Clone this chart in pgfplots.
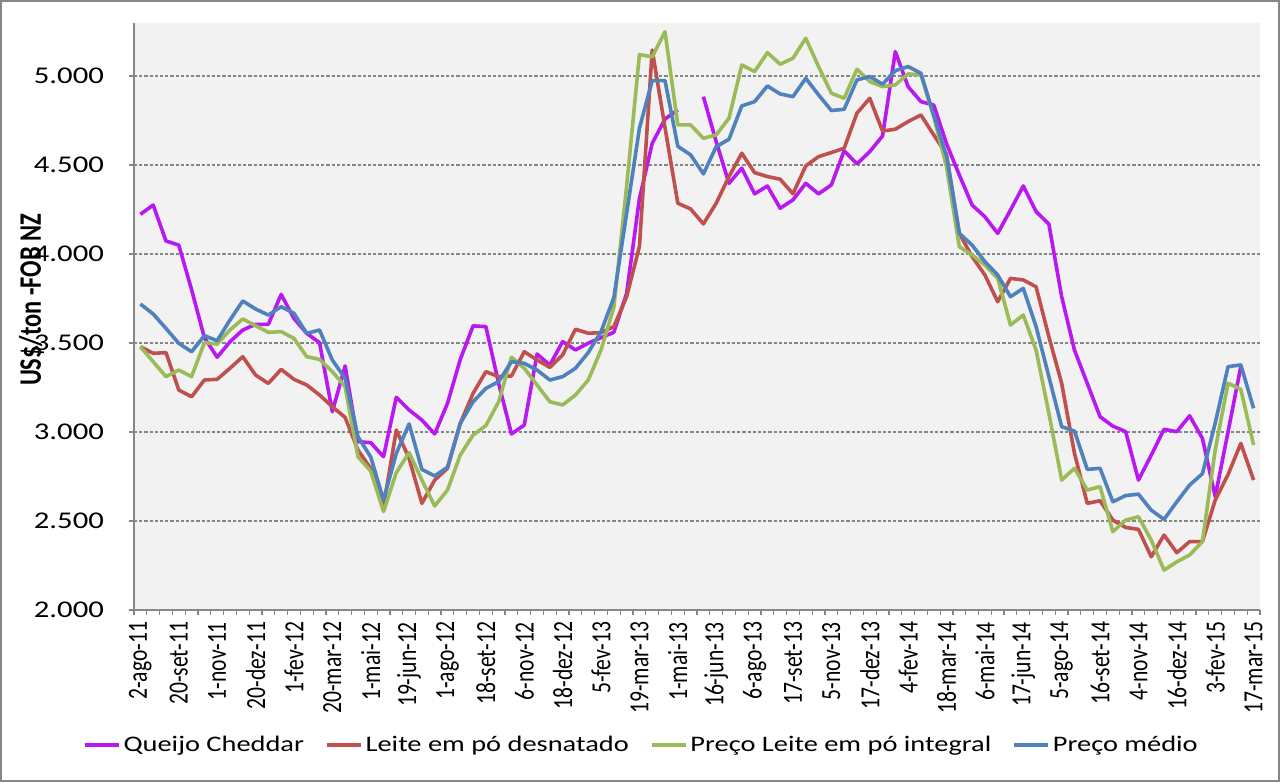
\documentclass[border=0pt]{standalone}
\usepackage{pgfplots}
\usepackage{pgfplotstable}
\usepackage{graphicx}
\pgfplotsset{compat=1.18}
\usepackage{fontspec}
\setmainfont{Carlito}

\definecolor{ched}{RGB}{185,25,240}
\definecolor{desn}{RGB}{192,80,77}
\definecolor{integ}{RGB}{155,187,89}
\definecolor{medio}{RGB}{79,129,189}
\definecolor{gridc}{RGB}{134,134,134}

% the reference is stretched sideways: widen text the same way
\newcommand{\wide}[1]{\scalebox{1.28}[1]{#1}}
\newcommand{\tall}[1]{\scalebox{1}[1.28]{#1}}

% leilões GDT, um por linha (i = posição na categoria)
\pgfplotstableread{
i ched desn integ medio
0 4223 3479 3479 3719
1 4275 3442 3395 3663
2 4073 3446 3311 3582
3 4050 3236 3348 3498
4 3800 3198 3311 3451
5 3530 3292 3502 3541
6 3420 3296 3494 3513
7 3507 3358 3573 3629
8 3573 3423 3635 3736
9 3605 3320 3597 3691
10 3605 3273 3560 3657
11 3773 3352 3564 3704
12 3638 3296 3526 3667
13 3554 3264 3423 3554
14 3502 3208 3408 3573
15 3114 3142 3339 3404
16 3371 3082 3255 3301
17 2946 2899 2861 2974
18 2940 2795 2780 2860
19 2861 2581 2553 2618
20 3195 3011 2772 2880
21 3124 2852 2884 3045
22 3067 2599 2730 2790
23 2989 2730 2584 2753
24 3161 2796 2674 2802
25 3408 3049 2871 3049
26 3596 3217 2983 3170
27 3592 3339 3036 3245
28 3273 3311 3170 3283
29 2989 3315 3420 3395
30 3039 3451 3358 3386
31 3438 3405 3264 3348
32 3376 3363 3170 3292
33 3508 3433 3152 3311
34 3461 3577 3208 3358
35 3499 3555 3292 3446
36 3530 3558 3461 3564
37 3560 3592 3700 3755
38 3779 3760 4380 4228
39 4310 4042 5120 4706
40 4622 5146 5108 4974
41 4758 4710 5249 4974
42 4809 4285 4725 4605
43 nan 4253 4725 4557
44 4884 4169 4650 4450
45 4631 4285 4669 4603
46 4397 4435 4763 4645
47 4482 4566 5062 4832
48 4338 4457 5025 4856
49 4382 4435 5131 4944
50 4257 4420 5066 4899
51 4304 4338 5100 4884
52 4397 4495 5212 4987
53 4338 4547 5053 4894
54 4388 4570 4903 4806
55 4580 4594 4875 4813
56 4506 4791 5038 4978
57 4575 4875 4969 4997
58 4663 4691 4940 4954
59 5137 4701 4950 5030
60 4940 4744 5012 5053
61 4856 4781 5006 5015
62 4837 4669 4772 4780
63 4620 4560 4491 4550
64 4444 4116 4041 4116
65 4275 3985 3994 4050
66 4209 3882 3938 3957
67 4116 3732 3863 3882
68 4247 3863 3601 3760
69 4382 3854 3657 3807
70 4238 3816 3460 3592
71 4168 3535 3105 3311
72 3760 3273 2730 3030
73 3460 2880 2796 3005
74 3273 2599 2674 2790
75 3086 2614 2693 2796
76 3033 2505 2440 2608
77 3002 2464 2505 2643
78 2730 2453 2524 2651
79 2870 2299 2393 2561
80 3015 2421 2224 2509
81 3002 2322 2271 2608
82 3091 2384 2309 2702
83 2964 2384 2384 2766
84 2637 2618 2900 3050
85 3000 2760 3274 3367
86 3367 2936 3240 3377
87 nan 2730 2927 3133
}\datatable

\begin{document}
\begin{tikzpicture}[x=1pt,y=1pt]
\path[use as bounding box] (0,0) rectangle (640,391);
\draw[gridc, line width=1pt] (0.5,0.5) rectangle (639.5,390.5);
\begin{axis}[
  at={(67pt,86pt)}, anchor=south west,
  scale only axis, width=563pt, height=293.7pt,
  xmin=-0.5, xmax=87.5,
  ymin=2000, ymax=5300,
  axis lines=left,
  axis line style={-, draw=gridc, line width=0.6pt},
  axis background/.style={fill=gray!10},
  ytick={2000,2500,3000,3500,4000,4500,5000},
  yticklabels={\wide{2.000},\wide{2.500},\wide{3.000},\wide{3.500},\wide{4.000},\wide{4.500},\wide{5.000}},
  xtick={0,3,...,87},
  xticklabels={\tall{2-ago-11},\tall{20-set-11},\tall{1-nov-11},\tall{20-dez-11},\tall{1-fev-12},\tall{20-mar-12},\tall{1-mai-12},\tall{19-jun-12},\tall{1-ago-12},\tall{18-set-12},\tall{6-nov-12},\tall{18-dez-12},\tall{5-fev-13},\tall{19-mar-13},\tall{1-mai-13},\tall{16-jun-13},\tall{6-ago-13},\tall{17-set-13},\tall{5-nov-13},\tall{17-dez-13},\tall{4-fev-14},\tall{18-mar-14},\tall{6-mai-14},\tall{17-jun-14},\tall{5-ago-14},\tall{16-set-14},\tall{4-nov-14},\tall{16-dez-14},\tall{3-fev-15},\tall{17-mar-15}},
  minor xtick={-0.5,0.5,...,87.5},
  tick align=outside,
  major tick length=2.5pt, minor tick length=2.5pt,
  xtick style={draw=none},
  minor x tick style={draw=gridc, line width=0.6pt},
  ytick style={draw=gridc, line width=0.6pt},
  ymajorgrids=true,
  grid style={gridc, dash pattern=on 1.6pt off 1pt, line width=0.6pt},
  yticklabel style={font=\fontsize{12}{14}\selectfont, xshift=-9pt},
  xticklabel style={font=\fontsize{10.8}{12}\selectfont, rotate=90, anchor=east},
  ylabel={\tall{US\$/ton -FOB NZ}},
  ylabel style={at={(axis description cs:-0.091,0.528)}, anchor=center, font=\fontsize{12.2}{14}\selectfont\bfseries},
  unbounded coords=jump,
  legend columns=4,
  legend style={at={(axis description cs:0.451,-0.23)}, anchor=center,
    draw=none, fill=none, font=\fontsize{11.1}{14}\selectfont,
    /tikz/every even column/.append style={column sep=9pt},
    nodes={inner sep=1.5pt}},
  legend image code/.code={\draw[#1] (0pt,0pt) -- (17pt,0pt);},
  every axis plot/.append style={line width=1.8pt, line join=round, no marks},
]
\addplot[ched] table[x=i, y=ched] {\datatable};
\addlegendentry{\wide{Queijo Cheddar}}
\addplot[desn] table[x=i, y=desn] {\datatable};
\addlegendentry{\wide{Leite em pó desnatado}}
\addplot[integ] table[x=i, y=integ] {\datatable};
\addlegendentry{\wide{Preço Leite em pó integral}}
\addplot[medio] table[x=i, y=medio] {\datatable};
\addlegendentry{\wide{Preço médio}}
\end{axis}
\end{tikzpicture}
\end{document}
